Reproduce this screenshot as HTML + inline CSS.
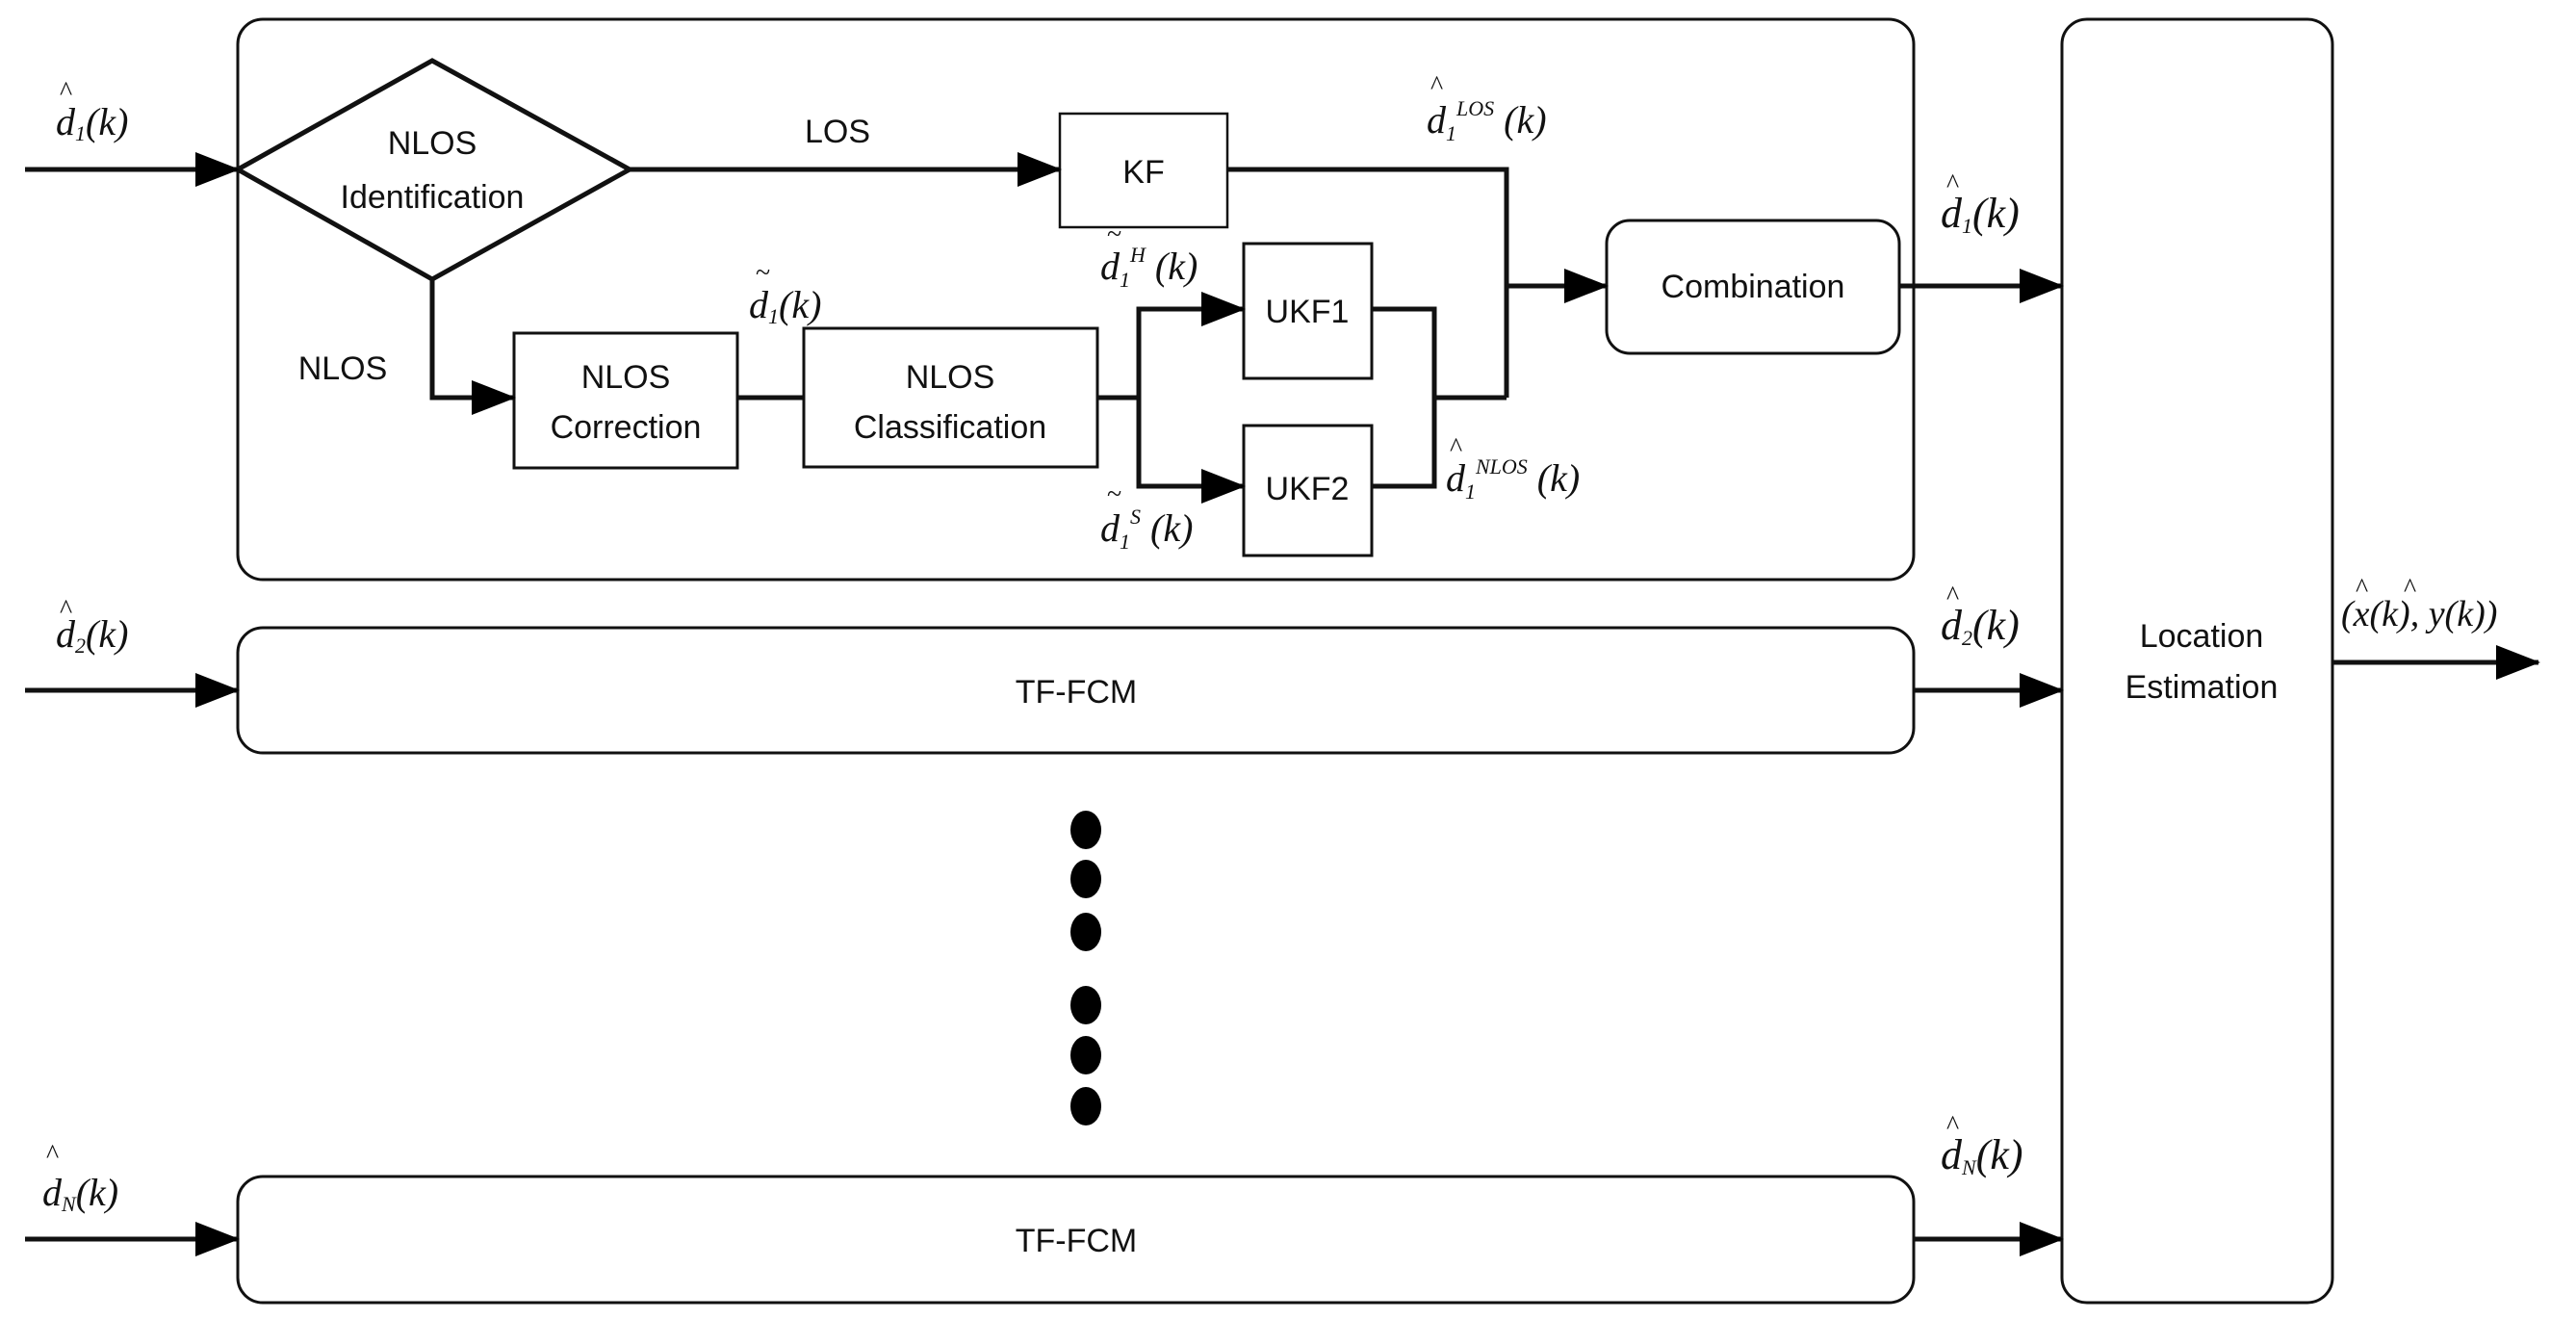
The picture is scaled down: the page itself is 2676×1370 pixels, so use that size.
<!DOCTYPE html>
<html><head><meta charset="utf-8"><style>
html,body{margin:0;padding:0;background:#fff}
svg{display:block}
.t{font-family:"Liberation Sans",sans-serif;font-size:34px;fill:#111;text-anchor:middle}
.m{font-family:"Liberation Serif",serif;font-style:italic;font-size:40px;fill:#111}
.s{font-size:22px}
.h{font-family:"Liberation Serif",serif;font-size:28px;fill:#111}
</style></head><body>
<svg width="2676" height="1370" viewBox="0 0 2676 1370" xmlns="http://www.w3.org/2000/svg">
<defs><marker id="a" markerWidth="46" markerHeight="36" refX="44" refY="18" orient="auto" markerUnits="userSpaceOnUse"><path d="M0,0 L46,18 L0,36 Z" fill="#000"/></marker></defs>
<g fill="none" stroke="#111">
<rect x="247" y="20" width="1741" height="582" rx="26" stroke-width="3"/>
<rect x="2142" y="20" width="281" height="1333" rx="26" stroke-width="3"/>
<rect x="247" y="652" width="1741" height="130" rx="26" stroke-width="3"/>
<rect x="247" y="1222" width="1741" height="131" rx="26" stroke-width="3"/>
<polygon points="247,176 449,63 654,176 449,290" stroke-width="5"/>
<rect x="1101" y="118" width="174" height="118" stroke-width="2.5"/>
<rect x="1669" y="229" width="304" height="138" rx="24" stroke-width="3"/>
<rect x="1292" y="253" width="133" height="140" stroke-width="3"/>
<rect x="1292" y="442" width="133" height="135" stroke-width="3"/>
<rect x="835" y="341" width="305" height="144" stroke-width="3"/>
<rect x="534" y="346" width="232" height="140" stroke-width="3"/>
<g stroke-width="5">
<line x1="26" y1="176" x2="247" y2="176" marker-end="url(#a)"/>
<line x1="654" y1="176" x2="1101" y2="176" marker-end="url(#a)"/>
<polyline points="1275,176 1565,176 1565,413"/>
<line x1="1565" y1="297" x2="1669" y2="297" marker-end="url(#a)"/>
<polyline points="1425,321 1490,321 1490,505 1425,505"/>
<line x1="1490" y1="413" x2="1565" y2="413"/>
<polyline points="449,290 449,413 534,413" marker-end="url(#a)"/>
<line x1="766" y1="413" x2="835" y2="413"/>
<polyline points="1140,413 1183,413 1183,321 1292,321" marker-end="url(#a)"/>
<polyline points="1183,413 1183,505 1292,505" marker-end="url(#a)"/>
<line x1="1973" y1="297" x2="2142" y2="297" marker-end="url(#a)"/>
<line x1="26" y1="717" x2="247" y2="717" marker-end="url(#a)"/>
<line x1="1988" y1="717" x2="2142" y2="717" marker-end="url(#a)"/>
<line x1="26" y1="1287" x2="247" y2="1287" marker-end="url(#a)"/>
<line x1="1988" y1="1287" x2="2142" y2="1287" marker-end="url(#a)"/>
<line x1="2423" y1="688" x2="2637" y2="688" marker-end="url(#a)"/>
</g></g>
<g fill="#000">
<ellipse cx="1128" cy="862" rx="16" ry="20"/><ellipse cx="1128" cy="913" rx="16" ry="20"/><ellipse cx="1128" cy="968" rx="16" ry="20"/>
<ellipse cx="1128" cy="1044" rx="16" ry="20"/><ellipse cx="1128" cy="1096" rx="16" ry="20"/><ellipse cx="1128" cy="1149" rx="16" ry="20"/>
</g>
<text class="t" x="449" y="160">NLOS</text><text class="t" x="449" y="216">Identification</text>
<text class="t" x="870" y="148">LOS</text>
<text class="t" x="1188" y="190">KF</text>
<text class="t" x="1821" y="309">Combination</text>
<text class="t" x="1358" y="335">UKF1</text>
<text class="t" x="1358" y="519">UKF2</text>
<text class="t" x="987" y="403">NLOS</text><text class="t" x="987" y="455">Classification</text>
<text class="t" x="650" y="403">NLOS</text><text class="t" x="650" y="455">Correction</text>
<text class="t" x="356" y="394">NLOS</text>
<text class="t" x="1118" y="730">TF-FCM</text>
<text class="t" x="1118" y="1300">TF-FCM</text>
<text class="t" x="2287" y="672">Location</text><text class="t" x="2287" y="725">Estimation</text>
<text class="h" x="62" y="104">^</text><text class="m" x="58" y="140">d<tspan class="s" dy="6">1</tspan><tspan dy="-6">(k)</tspan></text>
<text class="h" x="62" y="642">^</text><text class="m" x="58" y="672">d<tspan class="s" dy="6">2</tspan><tspan dy="-6">(k)</tspan></text>
<text class="h" x="48" y="1208">^</text><text class="m" x="44" y="1252">d<tspan class="s" dy="6">N</tspan><tspan dy="-6">(k)</tspan></text>
<text class="h" x="2022" y="200">^</text><text class="m" x="2016" y="236" style="font-size:44px">d<tspan class="s" dy="6">1</tspan><tspan dy="-6">(k)</tspan></text>
<text class="h" x="2022" y="628">^</text><text class="m" x="2016" y="664" style="font-size:44px">d<tspan class="s" dy="6">2</tspan><tspan dy="-6">(k)</tspan></text>
<text class="h" x="2022" y="1178">^</text><text class="m" x="2016" y="1214" style="font-size:44px">d<tspan class="s" dy="6">N</tspan><tspan dy="-6">(k)</tspan></text>
<text class="h" x="1486" y="98">^</text><text class="m" x="1482" y="138">d<tspan class="s" dy="8">1</tspan><tspan class="s" dy="-26">LOS</tspan><tspan dy="18"> (k)</tspan></text>
<text class="h" x="1506" y="474">^</text><text class="m" x="1502" y="510">d<tspan class="s" dy="8">1</tspan><tspan class="s" dy="-26">NLOS</tspan><tspan dy="18"> (k)</tspan></text>
<text class="h" x="785" y="292">~</text><text class="m" x="778" y="330">d<tspan class="s" dy="6">1</tspan><tspan dy="-6">(k)</tspan></text>
<text class="h" x="1150" y="252">~</text><text class="m" x="1143" y="290">d<tspan class="s" dy="8">1</tspan><tspan class="s" dy="-26">H</tspan><tspan dy="18"> (k)</tspan></text>
<text class="h" x="1150" y="522">~</text><text class="m" x="1143" y="562">d<tspan class="s" dy="8">1</tspan><tspan class="s" dy="-26">S</tspan><tspan dy="18"> (k)</tspan></text>
<text class="h" x="2447" y="620">^</text><text class="h" x="2497" y="620">^</text>
<text class="m" x="2432" y="650" style="font-size:38px">(x(k), y(k))</text>
</svg>
</body></html>
